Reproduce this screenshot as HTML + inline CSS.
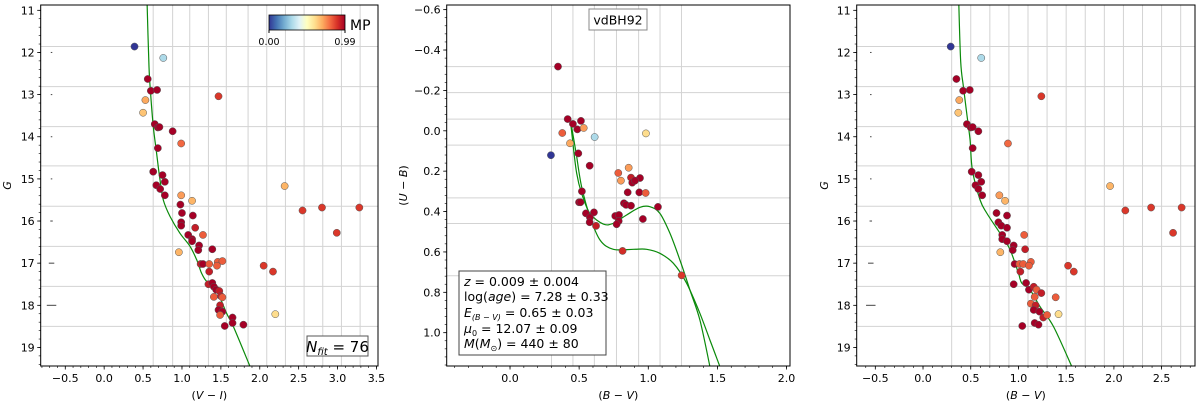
<!DOCTYPE html>
<html><head><meta charset="utf-8">
<style>
html,body{margin:0;padding:0;background:#fff;}
svg{display:block;font-family:"DejaVu Sans","Liberation Sans",sans-serif;}
</style></head>
<body>
<svg id="fig" width="1200" height="405" viewBox="0 0 1200 405" xmlns="http://www.w3.org/2000/svg"></svg>
<script>
// ---------- DATA ----------
// Panel 1: (V-I) vs G
const p1Color = [0.39,0.76,0.56,0.60,0.68,0.53,0.50,0.65,0.69,0.71,0.88,0.99,0.69,0.63,0.75,0.78,0.67,0.72,0.78,0.99,1.13,0.98,1.00,1.14,0.99,0.99,1.17,1.08,1.13,1.13,1.27,1.22,1.21,1.39,0.96,1.24,1.27,1.35,1.35,1.46,1.52,1.45,1.34,1.39,1.41,1.44,1.48,1.50,1.41,1.52,1.49,1.47,1.52,1.49,1.65,1.65,1.55,1.79,2.05,2.17,2.20,2.32,2.55,2.80,3.28,2.99,1.47];
const p1Mag   = [11.86,12.13,12.63,12.91,12.89,13.13,13.43,13.70,13.78,13.77,13.87,14.16,14.27,14.83,14.91,15.07,15.15,15.24,15.39,15.39,15.52,15.61,15.81,15.87,16.03,16.11,16.16,16.33,16.43,16.48,16.33,16.58,16.69,16.67,16.74,17.02,17.02,17.02,17.20,16.97,16.95,17.06,17.50,17.47,17.56,17.63,17.66,17.78,17.80,17.81,18.00,18.11,18.15,18.23,18.29,18.42,18.49,18.46,17.06,17.20,18.21,15.17,15.75,15.68,15.68,16.28,13.04];
const p1MP    = [0,0.3,0.99,0.99,0.99,0.7,0.65,0.99,0.99,0.99,0.99,0.8,0.99,0.99,0.99,0.99,0.99,0.99,0.99,0.72,0.68,0.99,0.99,0.99,0.99,0.99,0.93,0.99,0.99,0.99,0.82,0.99,0.99,0.99,0.68,0.93,0.99,0.82,0.93,0.82,0.82,0.82,0.93,0.99,0.99,0.99,0.93,0.93,0.82,0.82,0.93,0.99,0.99,0.82,0.99,0.99,0.99,0.99,0.88,0.88,0.6,0.68,0.88,0.88,0.88,0.88,0.88];
const p1IsoX = [0.55,0.576,0.597,0.631,0.674,0.717,0.76,0.846,0.974,1.103,1.189,1.253,1.317,1.403,1.467,1.574,1.66,1.874];
const p1IsoY = [10.75,12.34,12.97,13.76,14.39,15.02,15.50,15.89,16.29,16.60,16.92,17.24,17.43,17.47,17.71,18.19,18.50,19.45];
// Panel 2: (B-V) vs (U-B)
const p2BV = [0.347,0.417,0.455,0.513,0.487,0.533,0.378,0.434,0.612,0.983,0.296,0.494,0.576,0.783,0.858,0.802,0.875,0.940,0.884,0.904,0.520,0.851,0.935,0.981,0.499,0.510,0.824,0.839,0.875,1.07,0.549,0.607,0.578,0.576,0.622,0.761,0.788,0.786,0.771,0.961,0.814,1.241];
const p2UB = [-0.318,-0.058,-0.034,-0.049,-0.007,-0.014,0.011,0.062,0.031,0.013,0.121,0.112,0.173,0.209,0.183,0.247,0.232,0.234,0.257,0.247,0.300,0.305,0.305,0.308,0.354,0.354,0.359,0.367,0.371,0.377,0.409,0.404,0.429,0.453,0.471,0.422,0.417,0.447,0.463,0.437,0.595,0.716];
const p2MP = [0.99,0.99,0.99,0.99,0.99,0.72,0.82,0.7,0.3,0.6,0,0.99,0.99,0.82,0.72,0.72,0.93,0.99,0.99,0.99,0.99,0.99,0.99,0.82,0.99,0.99,0.99,0.99,0.99,0.99,0.99,0.99,0.99,0.99,0.93,0.99,0.99,0.99,0.99,0.99,0.9,0.88];
const p2IsoAX = [0.439,0.458,0.482,0.518,0.578,0.675,0.747,0.843,0.940,1.012,1.084,1.157,1.229,1.301,1.373,1.446];
const p2IsoAY = [-0.037,0.079,0.211,0.310,0.409,0.462,0.458,0.417,0.379,0.376,0.409,0.508,0.640,0.788,0.937,1.168];
const p2IsoBX = [0.439,0.458,0.482,0.518,0.578,0.651,0.747,0.892,0.988,1.084,1.181,1.277,1.373,1.446,1.518];
const p2IsoBY = [-0.037,0.029,0.128,0.277,0.425,0.541,0.587,0.587,0.587,0.607,0.656,0.755,0.904,1.036,1.168];
// Panel 3: (B-V) vs G
const p3Color = [0.29,0.61,0.35,0.42,0.49,0.38,0.37,0.46,0.50,0.52,0.58,0.89,0.52,0.51,0.58,0.61,0.55,0.58,0.62,0.80,0.86,0.88,0.77,0.79,0.82,0.88,0.83,0.83,0.88,1.06,0.95,0.94,1.07,0.81,0.96,1.01,1.05,1.02,1.13,1.11,0.95,1.08,1.11,1.16,1.19,1.24,1.17,1.13,1.18,1.16,1.22,1.26,1.30,1.17,1.21,1.04,1.39,1.42,1.52,1.58,1.96,2.12,2.39,2.71,2.62,1.24];
const p3Mag   = [11.86,12.13,12.63,12.91,12.89,13.13,13.43,13.70,13.78,13.77,13.87,14.16,14.27,14.83,14.91,15.07,15.15,15.24,15.39,15.39,15.52,15.87,15.81,16.03,16.11,16.16,16.33,16.43,16.48,16.33,16.58,16.69,16.67,16.74,17.02,17.02,17.02,17.20,16.97,17.06,17.50,17.47,17.63,17.56,17.63,17.71,17.80,17.96,18.00,18.11,18.15,18.29,18.23,18.42,18.46,18.49,17.81,18.21,17.06,17.20,15.17,15.75,15.68,15.68,16.28,13.04];
const p3MP    = [0,0.3,0.99,0.99,0.99,0.7,0.65,0.99,0.99,0.99,0.99,0.8,0.99,0.99,0.99,0.99,0.99,0.99,0.99,0.72,0.68,0.99,0.99,0.99,0.99,0.99,0.99,0.99,0.99,0.82,0.99,0.99,0.93,0.68,0.99,0.82,0.82,0.93,0.82,0.82,0.99,0.99,0.99,0.93,0.82,0.93,0.82,0.82,0.93,0.99,0.99,0.93,0.82,0.99,0.99,0.99,0.82,0.6,0.88,0.88,0.68,0.88,0.88,0.88,0.88,0.88];
const p3IsoX = [0.374,0.395,0.423,0.458,0.493,0.517,0.598,0.667,0.807,0.912,1.0,1.034,1.121,1.226,1.366,1.558];
const p3IsoY = [10.75,12.22,12.81,13.44,14.08,14.79,15.50,15.81,16.29,16.68,17.24,17.47,17.63,18.03,18.5,19.45];
// grids / ticks
const gGridY = [11.86,12.81,13.76,14.69,15.65,16.60,17.55,18.50];
const p1GridX = [0.63,0.88,1.10,1.34,1.57,1.85,2.09,2.33,2.57,2.81,3.05,3.29];
const p2GridX = [0.30,0.455,0.61,0.77,0.93,1.085,1.24];
const p2GridY = [-0.318,-0.189,-0.058,0.071,0.332,0.459,0.718];
const p3GridX = [0.3,0.5,0.7,0.9,1.1,1.3,1.5,1.7,1.9,2.1,2.3,2.5,2.7];
const gTicks = [11,12,13,14,15,16,17,18,19];
const p1XTicks = [-0.5,0,0.5,1,1.5,2,2.5,3,3.5];
const p2XTicks = [0,0.5,1,1.5,2];
const p2YTicks = [-0.6,-0.4,-0.2,0,0.2,0.4,0.6,0.8,1.0];
const p3XTicks = [-0.5,0,0.5,1,1.5,2,2.5];
const errMag = [12,13,14,15,16,17,18];
const errWid = [0.5,0.5,0.5,0.5,1,2.5,4.5];

// ---------- DRAW ----------
const NS="http://www.w3.org/2000/svg";
const svg=document.getElementById('fig');
const stops=['#313695','#4575b4','#74add1','#abd9e9','#e0f3f8','#ffffbf','#fee090','#fdae61','#f46d43','#d73027','#a50026'];
function hex(h){return [1,3,5].map(i=>parseInt(h.substr(i,2),16));}
function cmap(v){let t=Math.max(0,Math.min(1,v/0.99))*10;let i=Math.min(9,Math.floor(t));let f=t-i;let a=hex(stops[i]),b=hex(stops[i+1]);return 'rgb('+a.map((c,k)=>Math.round(c+(b[k]-c)*f)).join(',')+')';}
function el(tag,attrs,parent){const e=document.createElementNS(NS,tag);for(const k in attrs)e.setAttribute(k,attrs[k]);(parent||svg).appendChild(e);return e;}
function fmt(v){let s=v.toFixed(1);if(v<0)s='\u2212'+(-v).toFixed(1);return s;}

function panel(name,L,R,T,B,xmin,xmax,ymin,ymax){
  const g=el('g',{});
  
  
  return {g,L,R,T,B,sx:v=>L+(v-xmin)/(xmax-xmin)*(R-L),sy:v=>T+(v-ymin)/(ymax-ymin)*(B-T),xmin,xmax,ymin,ymax};
}
function grid(p,xs,ys){
  const gg=el('g',{},p.g);
  
  
  xs.forEach(v=>{const l=el('line',{x1:p.sx(v),x2:p.sx(v),y1:p.T,y2:p.B,stroke:'#d3d3d3','stroke-width':1},gg);});
  ys.forEach(v=>{const l=el('line',{x1:p.L,x2:p.R,y1:p.sy(v),y2:p.sy(v),stroke:'#d3d3d3','stroke-width':1},gg);});
}
function axes(p,xt,yt,xminor,yminor,xlabel,ylabel,ylx){
  const a=el('g',{},p.g);
  
  
  for(let v=Math.ceil(p.xmin/xminor)*xminor;v<=p.xmax+1e-9;v+=xminor){const x=p.sx(v);el('line',{x1:x,x2:x,y1:p.B,y2:p.B+2,stroke:'#000','stroke-width':0.6},a);}
  const ylo=Math.min(p.ymin,p.ymax),yhi=Math.max(p.ymin,p.ymax);
  for(let v=Math.ceil(ylo/yminor)*yminor;v<=yhi+1e-9;v+=yminor){const y=p.sy(v);el('line',{x1:p.L-2,x2:p.L,y1:y,y2:y,stroke:'#000','stroke-width':0.6},a);}
  xt.forEach(v=>{const x=p.sx(v);el('line',{x1:x,x2:x,y1:p.B,y2:p.B+3.5,stroke:'#000','stroke-width':0.8},a);
    const t=el('text',{x:x,y:p.B+16,'font-size':11,'text-anchor':'middle',fill:'#000'},a);t.textContent=fmt(v);});
  yt.forEach(v=>{const y=p.sy(v);el('line',{x1:p.L-3.5,x2:p.L,y1:y,y2:y,stroke:'#000','stroke-width':0.8},a);
    const t=el('text',{x:p.L-6,y:y+4,'font-size':11,'text-anchor':'end',fill:'#000'},a);t.textContent=(Number.isInteger(v)&&Math.abs(v)>=2)?String(v):fmt(v);});
  const fr=el('rect',{x:p.L,y:p.T,width:p.R-p.L,height:p.B-p.T,fill:'none',stroke:'#000','stroke-width':1},a);
  
  const xl=el('text',{x:(p.L+p.R)/2,y:399,'font-size':11,'text-anchor':'middle',fill:'#000'},a);xl.innerHTML=xlabel;
  
  const cy=(p.T+p.B)/2;
  const yl=el('text',{x:ylx,y:cy,'font-size':11,'text-anchor':'middle',fill:'#000',transform:'rotate(-90 '+ylx+' '+cy+')'},a);yl.innerHTML=ylabel;
  
}
function iso(p,xs,ys,name){
  const P=xs.map((v,i)=>[p.sx(v),p.sy(ys[i])]);
  let d='M'+P[0][0].toFixed(1)+','+P[0][1].toFixed(1);
  for(let i=0;i<P.length-1;i++){
    const p0=P[Math.max(0,i-1)],p1=P[i],p2=P[i+1],p3=P[Math.min(P.length-1,i+2)];
    const c1=[p1[0]+(p2[0]-p0[0])/6,p1[1]+(p2[1]-p0[1])/6];
    const c2=[p2[0]-(p3[0]-p1[0])/6,p2[1]-(p3[1]-p1[1])/6];
    d+='C'+c1.map(n=>n.toFixed(1)).join(',')+' '+c2.map(n=>n.toFixed(1)).join(',')+' '+p2.map(n=>n.toFixed(1)).join(',');
  }
  const pa=el('path',{d:d,fill:'none',stroke:'#0a8a0a','stroke-width':1.2,'stroke-linejoin':'round'},p.g);
  
  
}
function dots(p,xs,ys,mp){
  const gg=el('g',{},p.g);
  
  
  xs.forEach((v,i)=>{const c=el('circle',{cx:p.sx(v),cy:p.sy(ys[i]),r:3.6,fill:cmap(mp[i]),stroke:'#555','stroke-width':0.5},gg);
    });
}
function errbars(p,xpos){
  const gg=el('g',{},p.g);
  
  
  errMag.forEach((m,i)=>{const x=p.sx(xpos),y=p.sy(m);el('line',{x1:x-errWid[i],x2:x+errWid[i]+0.5,y1:y,y2:y,stroke:'#444','stroke-width':1},gg);});
}
function clip(p,id){const cp=el('clipPath',{id:id});el('rect',{x:p.L,y:p.T,width:p.R-p.L,height:p.B-p.T},cp);}

// Panel 1
const P1=panel('panel-vi-g',40.7,378,5,366,-0.816,3.52,10.874,19.44);
clip(P1,'c1');
grid(P1,p1GridX,gGridY);
errbars(P1,-0.68);
const c1=el('g',{'clip-path':'url(#c1)'},P1.g);
iso({...P1,g:c1},p1IsoX,p1IsoY,'isochrone');
dots(P1,p1Color,p1Mag,p1MP);
axes(P1,p1XTicks,gTicks,0.1,0.2,'(<tspan font-style="italic">V</tspan> \u2212 <tspan font-style="italic">I</tspan>)','<tspan font-style="italic">G</tspan>',11);

// colorbar
const defs=el('defs',{});
const lg=el('linearGradient',{id:'cb',x1:0,x2:1,y1:0,y2:0},defs);
stops.forEach((s,i)=>el('stop',{offset:(i/10),'stop-color':s},lg));
const cb=el('g',{});


el('rect',{x:269,y:15,width:76,height:15,fill:'url(#cb)',stroke:'#000','stroke-width':0.8},cb);
el('line',{x1:269,x2:269,y1:30,y2:33,stroke:'#000'},cb);el('line',{x1:345,x2:345,y1:30,y2:33,stroke:'#000'},cb);
let t=el('text',{x:269,y:45,'font-size':9.5,'text-anchor':'middle'},cb);t.textContent='0.00';
t=el('text',{x:345,y:45,'font-size':9.5,'text-anchor':'middle'},cb);t.textContent='0.99';
t=el('text',{x:350,y:30,'font-size':14},cb);t.textContent='MP';

// Nfit box
const nb=el('g',{});


el('rect',{x:307,y:336,width:61,height:20,fill:'#fff',stroke:'#555','stroke-width':1},nb);
t=el('text',{x:337.5,y:352,'font-size':15,'text-anchor':'middle'},nb);
t.innerHTML='<tspan font-style="italic">N</tspan><tspan font-style="italic" font-size="10" dy="3">fit</tspan><tspan dy="-3"> = 76</tspan>';

// Panel 2
const P2=panel('panel-bv-ub',446.7,790,5,366,-0.458,2.025,-0.623,1.165);
clip(P2,'c2');
grid(P2,p2GridX,p2GridY);
const c2=el('g',{'clip-path':'url(#c2)'},P2.g);
iso({...P2,g:c2},p2IsoAX,p2IsoAY,'isochrone-a');
iso({...P2,g:c2},p2IsoBX,p2IsoBY,'isochrone-b');
dots(P2,p2BV,p2UB,p2MP);
axes(P2,p2XTicks,p2YTicks,0.1,0.04,'(<tspan font-style="italic">B</tspan> \u2212 <tspan font-style="italic">V</tspan>)','(<tspan font-style="italic">U</tspan> \u2212 <tspan font-style="italic">B</tspan>)',407);
const tb=el('g',{});


el('rect',{x:589,y:9,width:58,height:21,fill:'#fff',stroke:'#888','stroke-width':1},tb);
t=el('text',{x:618,y:24.5,'font-size':12.5,'text-anchor':'middle'},tb);t.textContent='vdBH92';
const pb=el('g',{});


el('rect',{x:459,y:271,width:147,height:84,fill:'#fff',stroke:'#444','stroke-width':1},pb);
const lines=['<tspan font-style="italic">z</tspan> = 0.009 \u00b1 0.004',
 'log(<tspan font-style="italic">age</tspan>) = 7.28 \u00b1 0.33',
 '<tspan font-style="italic">E</tspan><tspan font-size="8" font-style="italic" dy="3">(B \u2212 V)</tspan><tspan dy="-3"> = 0.65 \u00b1 0.03</tspan>',
 '<tspan font-style="italic">\u03bc</tspan><tspan font-size="8" dy="3">0</tspan><tspan dy="-3"> = 12.07 \u00b1 0.09</tspan>',
 '<tspan font-style="italic">M</tspan>(<tspan font-style="italic">M</tspan><tspan font-size="8" dy="3">\u2299</tspan><tspan dy="-3">) = 440 \u00b1 80</tspan>'];
[286,301,317,333,348].forEach((y,i)=>{const tt=el('text',{x:464,y:y,'font-size':12.5},pb);tt.innerHTML=lines[i];});

// Panel 3
const P3=panel('panel-bv-g',856.7,1195,5,366,-0.695,2.85,10.874,19.44);
clip(P3,'c3');
grid(P3,p3GridX,gGridY);
errbars(P3,-0.55);
const c3=el('g',{'clip-path':'url(#c3)'},P3.g);
iso({...P3,g:c3},p3IsoX,p3IsoY,'isochrone');
dots(P3,p3Color,p3Mag,p3MP);
axes(P3,p3XTicks,gTicks,0.1,0.2,'(<tspan font-style="italic">B</tspan> \u2212 <tspan font-style="italic">V</tspan>)','<tspan font-style="italic">G</tspan>',828);
</script>
</body></html>
